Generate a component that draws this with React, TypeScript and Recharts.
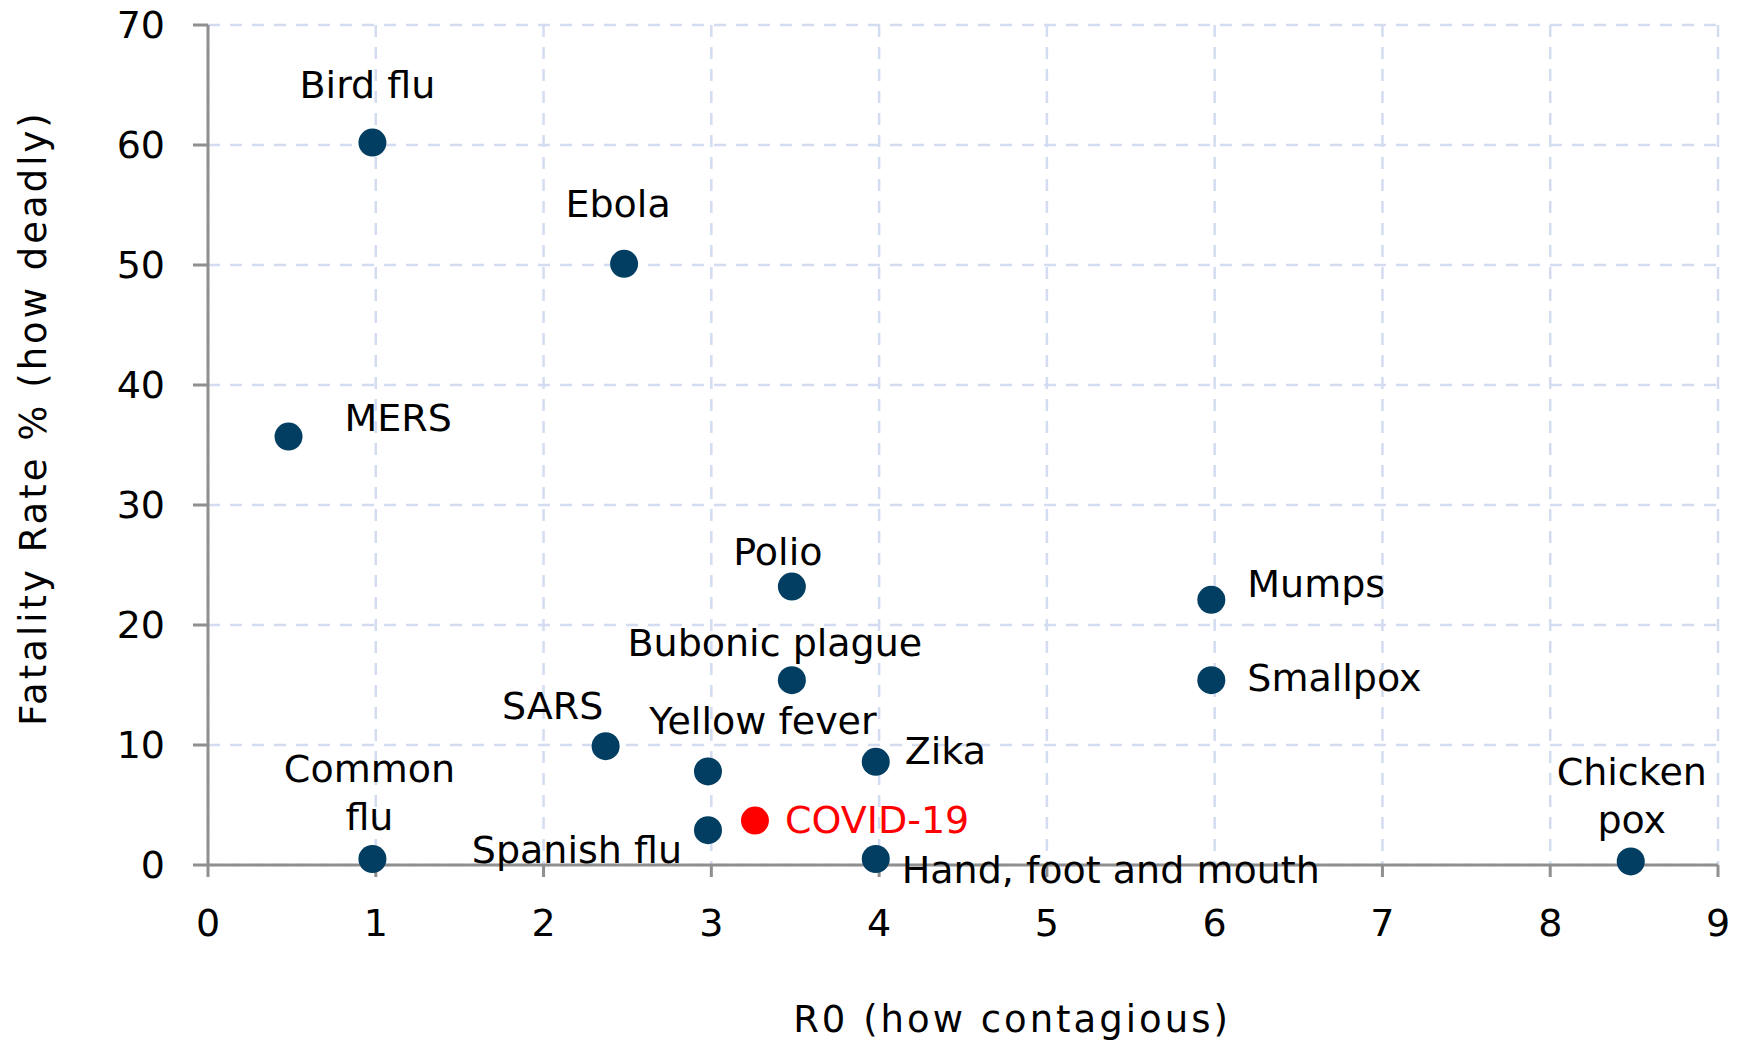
import {
  CartesianGrid,
  Cell,
  Label,
  LabelList,
  Scatter,
  ScatterChart,
  XAxis,
  YAxis,
} from 'recharts';

const diseases = [
  'Bird flu',
  'Ebola',
  'MERS',
  'Polio',
  'Mumps',
  'Bubonic plague',
  'Smallpox',
  'SARS',
  'Yellow fever',
  'Zika',
  'COVID-19',
  'Spanish flu',
  'Common flu',
  'Hand, foot and mouth',
  'Chicken pox',
];
const r0Values = [0.98, 2.48, 0.48, 3.48, 5.98, 3.48, 5.98, 2.37, 2.98, 3.98, 3.26, 2.98, 0.98, 3.98, 8.48];
const fatalityRates = [60.2, 50.1, 35.7, 23.2, 22.1, 15.4, 15.4, 9.9, 7.8, 8.6, 3.7, 2.9, 0.5, 0.5, 0.3];
const xTicks = [0, 1, 2, 3, 4, 5, 6, 7, 8, 9];
const yTicks = [0, 10, 20, 30, 40, 50, 60, 70];
const highlighted = 'COVID-19';

const points = diseases.map((name, i) => ({
  name,
  r0: r0Values[i],
  fatality: fatalityRates[i],
}));

// where each label sits relative to its dot (px)
const placement: Record<string, { anchor: string; dx: number; dy: number[] }> = {
  'Bird flu': { anchor: 'middle', dx: -5, dy: [-58] },
  Ebola: { anchor: 'middle', dx: -6, dy: [-60] },
  MERS: { anchor: 'start', dx: 56, dy: [-19] },
  Polio: { anchor: 'middle', dx: -14, dy: [-35] },
  Mumps: { anchor: 'start', dx: 36, dy: [-16] },
  'Bubonic plague': { anchor: 'middle', dx: -17, dy: [-37] },
  Smallpox: { anchor: 'start', dx: 36, dy: [-2] },
  SARS: { anchor: 'middle', dx: -53, dy: [-40] },
  'Yellow fever': { anchor: 'middle', dx: 55, dy: [-50] },
  Zika: { anchor: 'start', dx: 29, dy: [-11] },
  'COVID-19': { anchor: 'start', dx: 30, dy: [-1] },
  'Spanish flu': { anchor: 'end', dx: -26, dy: [20] },
  'Common flu': { anchor: 'middle', dx: -3, dy: [-90, -42] },
  'Hand, foot and mouth': { anchor: 'start', dx: 26, dy: [11] },
  'Chicken pox': { anchor: 'middle', dx: 1, dy: [-89, -41] },
};

const FONT = '"DejaVu Sans", Verdana, sans-serif';
const DOT = '#023e62';
const RED = '#ff0000';
const AXIS = '#8f8f8f';

const DiseaseLabel = (props: any) => {
  const { x, y, width, height, value } = props;
  const p = placement[value];
  if (!p) return null;
  const cx = x + width / 2;
  const cy = y + height / 2;
  const words = p.dy.length > 1 ? String(value).split(' ') : [value];
  return (
    <g>
      {words.map((w: string, i: number) => (
        <text
          key={i}
          x={cx + p.dx}
          y={cy + p.dy[i]}
          textAnchor={p.anchor as any}
          dominantBaseline="central"
          fontFamily={FONT}
          fontSize={38}
          fill={value === highlighted ? RED : '#000'}
        >
          {w}
        </text>
      ))}
    </g>
  );
};

const Dot = (props: any) => (
  <circle cx={props.cx} cy={props.cy} r={14} fill={props.fill} />
);

export default function App() {
  return (
    <div style={{ position: 'absolute', left: 0, top: 0, background: '#fff' }}>
      <ScatterChart
        width={1746}
        height={1041}
        margin={{ top: 25, right: 28, left: 88, bottom: 56 }}
      >
        <CartesianGrid
          stroke="#d3dcf0"
          strokeWidth={2.5}
          strokeDasharray="12 10"
        />
        <XAxis
          type="number"
          dataKey="r0"
          domain={[0, 9]}
          ticks={xTicks}
          height={120}
          axisLine={{ stroke: AXIS, strokeWidth: 3 }}
          tickLine={{ stroke: AXIS, strokeWidth: 3 }}
          tickSize={12}
          tickMargin={32}
          tick={{ fill: '#000', fontSize: 38, fontFamily: FONT }}
        >
          <Label
            content={(p: any) => (
              <text
                x={p.viewBox.x + p.viewBox.width / 2 + 49}
                y={p.viewBox.y + 154}
                textAnchor="middle"
                dominantBaseline="central"
                fontFamily={FONT}
                fontSize={37}
                letterSpacing={3}
                fill="#000"
              >
                R0 (how contagious)
              </text>
            )}
          />
        </XAxis>
        <YAxis
          type="number"
          dataKey="fatality"
          domain={[0, 70]}
          ticks={yTicks}
          width={120}
          axisLine={{ stroke: AXIS, strokeWidth: 3 }}
          tickLine={{ stroke: AXIS, strokeWidth: 3 }}
          tickSize={15}
          tickMargin={28}
          tick={{ fill: '#000', fontSize: 38, fontFamily: FONT }}
        >
          <Label
            content={(p: any) => {
              const x = p.viewBox.x - 55;
              const y = p.viewBox.y + p.viewBox.height / 2 - 27;
              return (
                <text
                  x={x}
                  y={y}
                  transform={`rotate(-90, ${x}, ${y})`}
                  textAnchor="middle"
                  dominantBaseline="central"
                  fontFamily={FONT}
                  fontSize={37}
                  letterSpacing={3}
                  fill="#000"
                >
                  Fatality Rate % (how deadly)
                </text>
              );
            }}
          />
        </YAxis>
        <Scatter data={points} shape={<Dot />} isAnimationActive={false}>
          {points.map((pt) => (
            <Cell key={pt.name} fill={pt.name === highlighted ? RED : DOT} />
          ))}
          <LabelList dataKey="name" content={<DiseaseLabel />} />
        </Scatter>
      </ScatterChart>
    </div>
  );
}
